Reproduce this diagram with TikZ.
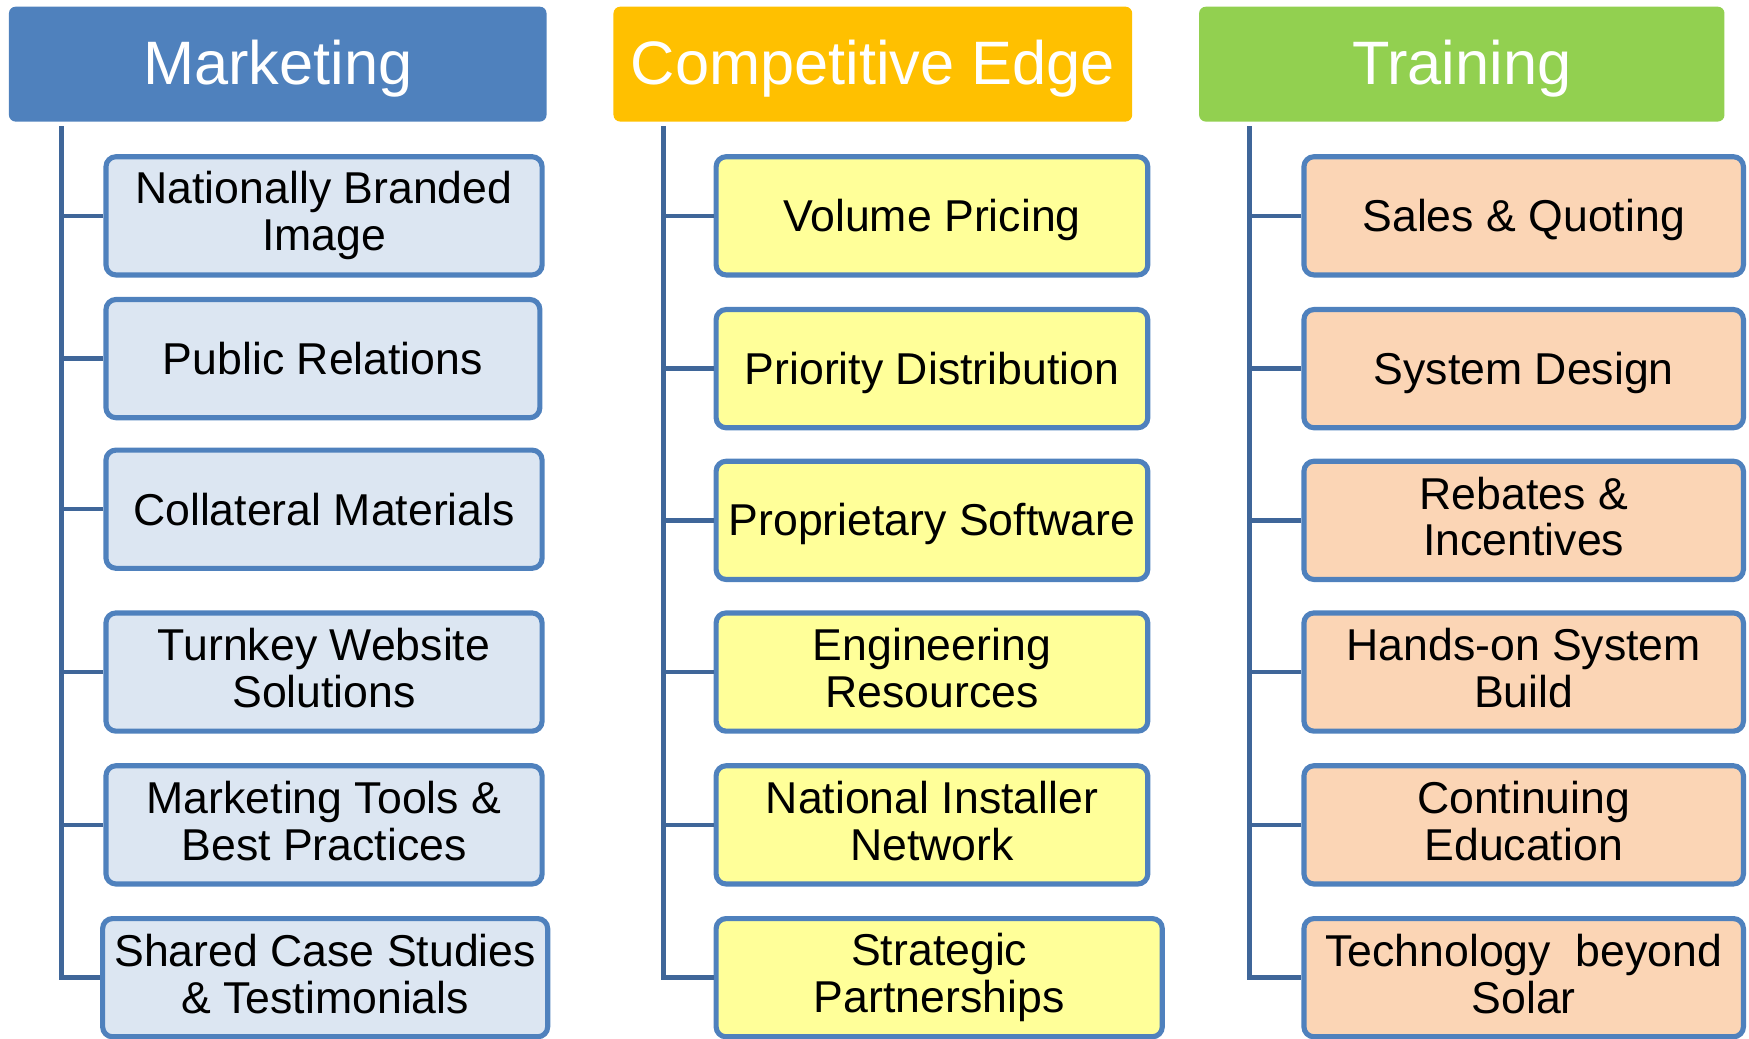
\documentclass[tikz,border=0pt]{standalone}
\usepackage{fontspec}
\setmainfont{Liberation Sans}
\begin{document}
\begin{tikzpicture}[x=0.5pt,y=-0.5pt,
  hdr/.style={rounded corners=3pt,inner sep=0pt,text=white,font=\fontsize{27.5}{30}\selectfont,
    execute at begin node={\rule[-4.5pt]{0pt}{28.5pt}}},
  sub/.style={draw=boxline,line width=2.3pt,rounded corners=4.5pt,inner sep=0pt,align=center,text=black,font=\fontsize{20}{21}\selectfont,
    execute at begin node={\rule{0pt}{18pt}},execute at end node={\rule[-3.6pt]{0pt}{3.6pt}}},
  mk/.style={sub,fill=mkfill,minimum width=195.5pt,minimum height=53pt},
  ce/.style={sub,fill=cefill,minimum width=193.5pt,minimum height=53pt},
  tr/.style={sub,fill=trfill,minimum width=197pt,minimum height=53pt},
  trunk/.style={draw=trunkcol,line width=2pt}]
\definecolor{hblue}{HTML}{4F81BD}
\definecolor{hgold}{HTML}{FFC000}
\definecolor{hgreen}{HTML}{92D050}
\definecolor{boxline}{HTML}{4F81BD}
\definecolor{trunkcol}{HTML}{3F6699}
\definecolor{mkfill}{HTML}{DCE6F2}
\definecolor{cefill}{HTML}{FFFF99}
\definecolor{trfill}{HTML}{FBD5B5}
\useasboundingbox (0,0) rectangle (1568,931);
% headers
\node[hdr,fill=hblue,minimum width=241pt,minimum height=51.5pt] (hm) at (249,57.5) {Marketing};
\node[hdr,fill=hgold,minimum width=232.5pt,minimum height=51.5pt] (hc) at (782.5,57.5) {Competitive Edge};
\node[hdr,fill=hgreen,minimum width=235.5pt,minimum height=51.5pt] (ht) at (1310.5,57.5) {Training};
% marketing
\node[mk] (m1) at (290.5,193.5) {Nationally Branded\\Image};
\node[mk,minimum width=194.5pt] (m2) at (289.5,321.5) {Public Relations};
\node[mk] (m3) at (290.5,456.5) {Collateral Materials};
\node[mk] (m4) at (290.5,602.5) {Turnkey Website\\Solutions};
\node[mk] (m5) at (290.5,739.5) {Marketing Tools \&\\Best Practices};
\node[mk,minimum width=199.5pt] (m6) at (291.5,876.5) {Shared Case Studies\\\& Testimonials};
% competitive edge
\node[ce] (c1) at (835.5,193.5) {Volume Pricing};
\node[ce] (c2) at (835.5,330.5) {Priority Distribution};
\node[ce] (c3) at (835.5,466.5) {Proprietary Software};
\node[ce] (c4) at (835.5,602.5) {Engineering\\Resources};
\node[ce] (c5) at (835.5,739.5) {National Installer\\Network};
\node[ce,minimum width=200pt] (c6) at (842,876.5) {Strategic\\Partnerships};
% training
\node[tr] (t1) at (1366,193.5) {Sales \& Quoting};
\node[tr] (t2) at (1366,330.5) {System Design};
\node[tr] (t3) at (1366,466.5) {Rebates \&\\Incentives};
\node[tr] (t4) at (1366,602.5) {Hands-on System\\Build};
\node[tr] (t5) at (1366,739.5) {Continuing\\Education};
\node[tr] (t6) at (1366,876.5) {Technology~~beyond\\Solar};
% trunks
\coordinate (mt) at (55,113);
\coordinate (ct) at (595,113);
\coordinate (tt) at (1120,113);
\draw[trunk] (mt) |- (m6.west);
\draw[trunk] (ct) |- (c6.west);
\draw[trunk] (tt) |- (t6.west);
\foreach \i in {1,...,5}{
  \draw[trunk] (m\i.west) -- (mt |- m\i.west);
  \draw[trunk] (c\i.west) -- (ct |- c\i.west);
  \draw[trunk] (t\i.west) -- (tt |- t\i.west);
}
\end{tikzpicture}
\end{document}
